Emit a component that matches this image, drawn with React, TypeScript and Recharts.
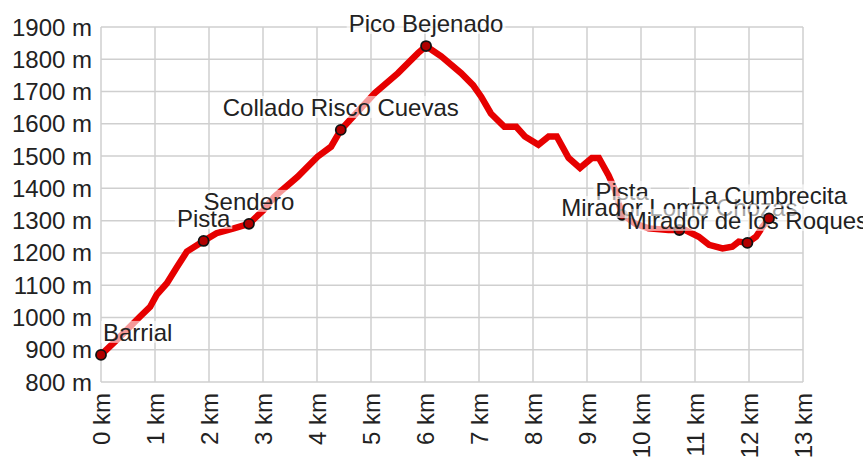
import { ComposedChart, Line, Scatter, XAxis, YAxis, CartesianGrid } from "recharts";

document.body.style.margin = "0";

// route profile (km, metres)
const routeKm = [
  0, 0.35, 0.72, 0.91, 1.03, 1.22, 1.41, 1.59, 1.9, 2.14, 2.46, 2.74, 3.01, 3.21, 3.64, 4.01,
  4.26, 4.44, 5.07, 5.5, 5.87, 6.02, 6.3, 6.67, 6.89, 7.04, 7.22, 7.47, 7.69, 7.85, 8.1, 8.29,
  8.44, 8.66, 8.87, 9.09, 9.22, 9.4, 9.52, 9.64, 9.89, 10.14, 10.51, 10.82, 11.07, 11.26, 11.51,
  11.69, 11.81, 11.97, 12.13, 12.25, 12.37, 12.42,
];
const routeEle = [
  884, 940, 1002, 1033, 1070, 1106, 1157, 1204, 1237, 1261, 1276, 1290, 1333, 1374, 1436, 1498,
  1529, 1581, 1695, 1757, 1819, 1841, 1809, 1757, 1720, 1684, 1632, 1591, 1591, 1561, 1535, 1561,
  1561, 1494, 1463, 1494, 1494, 1440, 1395, 1322, 1291, 1276, 1271, 1271, 1250, 1225, 1214,
  1219, 1235, 1231, 1250, 1281, 1307, 1318,
];

const waypointNames = [
  "Barrial",
  "Pista",
  "Sendero",
  "Collado Risco Cuevas",
  "Pico Bejenado",
  "Pista",
  "Mirador Lomo Chozas",
  "Mirador de los Roques",
  "La Cumbrecita",
];
const waypointKm = [0, 1.9, 2.74, 4.44, 6.02, 9.65, 10.71, 11.97, 12.37];
const waypointEle = [884, 1237, 1290, 1581, 1841, 1318, 1271, 1231, 1307];

const xTicks = [0, 1, 2, 3, 4, 5, 6, 7, 8, 9, 10, 11, 12, 13];
const yTicks = [800, 900, 1000, 1100, 1200, 1300, 1400, 1500, 1600, 1700, 1800, 1900];

const profile = routeKm.map((km, i) => ({ km, ele: routeEle[i] }));
const waypoints = waypointNames.map((name, i) => ({ name, km: waypointKm[i], ele: waypointEle[i] }));

const FONT = '"Liberation Sans", Arial, sans-serif';
const FONT_SIZE = 24;
const PLOT_LEFT = 101;
const TEXT = "#222";

const measureCtx = document.createElement("canvas").getContext("2d");
function textWidth(s: string) {
  if (!measureCtx) return s.length * FONT_SIZE * 0.5;
  measureCtx.font = `${FONT_SIZE}px ${FONT}`;
  return measureCtx.measureText(s).width;
}

// marker + label drawn together so later labels cover earlier ones
function Waypoint(props: any) {
  const { cx, cy } = props;
  const name = props.payload?.name ?? props.name;
  const w = textWidth(name);
  let left = cx - w / 2;
  if (left < PLOT_LEFT) left = PLOT_LEFT + 2;
  const mid = cy - 23;
  return (
    <g>
      <circle cx={cx} cy={cy} r={5} fill="#b00000" stroke="#111" strokeWidth={1.8} />
      <rect x={left - 2} y={mid - 11} width={w + 4} height={22} fill="#fff" fillOpacity={0.6} />
      <text x={left} y={mid} dy="0.36em" fontFamily={FONT} fontSize={FONT_SIZE} fill={TEXT}>
        {name}
      </text>
    </g>
  );
}

function KmTick({ x, y, payload }: any) {
  const ty = y + 3;
  return (
    <text
      x={x}
      y={ty}
      dy="0.36em"
      transform={`rotate(-90 ${x} ${ty})`}
      textAnchor="end"
      fontFamily={FONT}
      fontSize={FONT_SIZE}
      fill={TEXT}
    >
      {`${payload.value} km`}
    </text>
  );
}

export default function App() {
  return (
    <div style={{ width: 863, height: 457, background: "#fff" }}>
      <ComposedChart width={863} height={457} margin={{ top: 27, right: 60, bottom: 0, left: 0 }}>
        <CartesianGrid stroke="#cfcfcf" strokeWidth={1.5} vertical horizontal />
        <XAxis
          dataKey="km"
          type="number"
          domain={[0, 13]}
          ticks={xTicks}
          interval={0}
          axisLine={false}
          tickLine={false}
          height={75}
          tick={<KmTick />}
        />
        <YAxis
          dataKey="ele"
          type="number"
          domain={[800, 1900]}
          ticks={yTicks}
          interval={0}
          axisLine={false}
          tickLine={false}
          tickMargin={3}
          width={101}
          tickFormatter={(v: number) => `${v} m`}
          tick={{ fontFamily: FONT, fontSize: FONT_SIZE, fill: TEXT }}
        />
        <Line
          data={profile}
          dataKey="ele"
          type="linear"
          stroke="#e60000"
          strokeWidth={6.5}
          dot={false}
          activeDot={false}
          isAnimationActive={false}
        />
        <Scatter data={waypoints} dataKey="ele" shape={<Waypoint />} isAnimationActive={false} />
      </ComposedChart>
    </div>
  );
}
